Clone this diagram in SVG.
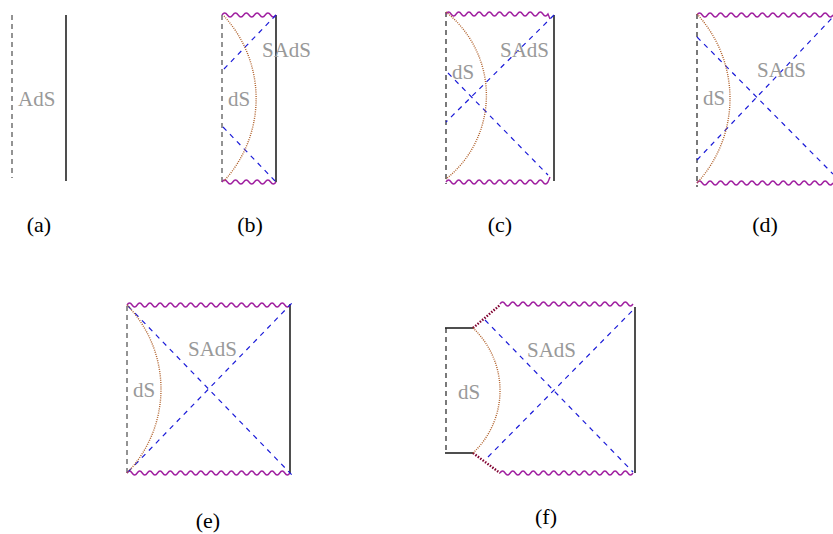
<svg xmlns="http://www.w3.org/2000/svg" width="833" height="534" viewBox="0 0 833 534">
<style>
.bd{stroke:#666;stroke-width:1.4;stroke-dasharray:5 4;fill:none}
.kd{stroke:#222;stroke-width:1.2;stroke-dasharray:5 4;fill:none}
.sl{stroke:#222;stroke-width:1.6;fill:none}
.wv{stroke:#a020a0;stroke-width:1.4;fill:none}
.bl{stroke:#1a1ad8;stroke-width:1.2;stroke-dasharray:5 5;fill:none}
.br{stroke:#b0602a;stroke-width:1.4;stroke-dasharray:1 1.2;fill:none}
.mr{stroke:#800030;stroke-width:2.4;stroke-dasharray:1.5 1.5;fill:none}
.lb{font-size:21px;fill:#999}
.cp{font-size:22px;fill:#000;text-anchor:middle}
</style>
<g font-family="'Liberation Serif','Times New Roman','DejaVu Serif',serif">
<g id="panel-a">
<line class="bd" x1="12" y1="15" x2="12" y2="178"/>
<line class="sl" x1="66" y1="15" x2="66" y2="181"/>
<text class="lb" x="18" y="106">AdS</text>
<text class="cp" x="39" y="232">(a)</text>
</g>
<g id="panel-b">
<line class="bd" x1="222" y1="15" x2="222" y2="182"/>
<line class="sl" x1="276" y1="15" x2="276" y2="182"/>
<path class="wv" d="M222 15 q2.7 -4 5.4 0 t5.4 0 t5.4 0 t5.4 0 t5.4 0 t5.4 0 t5.4 0 t5.4 0 t5.4 0 t5.4 0"/>
<path class="wv" d="M222 182 q2.7 -4 5.4 0 t5.4 0 t5.4 0 t5.4 0 t5.4 0 t5.4 0 t5.4 0 t5.4 0 t5.4 0 t5.4 0"/>
<line class="bl" x1="276" y1="15" x2="223" y2="70"/>
<line class="bl" x1="223" y1="127" x2="276" y2="182"/>
<path class="br" d="M224 16 A122 122 0 0 1 224 181"/>
<text class="lb" x="262" y="57">SAdS</text>
<text class="lb" x="228" y="106">dS</text>
<text class="cp" x="250" y="232">(b)</text>
</g>
<g id="panel-c">
<line class="kd" x1="446" y1="12" x2="446" y2="184"/>
<line class="sl" x1="554" y1="15" x2="554" y2="181"/>
<path class="wv" d="M446 14 q2.55 -4 5.1 0 t5.1 0 t5.1 0 t5.1 0 t5.1 0 t5.1 0 t5.1 0 t5.1 0 t5.1 0 t5.1 0 t5.1 0 t5.1 0 t5.1 0 t5.1 0 t5.1 0 t5.1 0 t5.1 0 t5.1 0 t5.1 0 t5.1 0 l2 5"/>
<path class="wv" d="M446 182 q2.55 -4 5.1 0 t5.1 0 t5.1 0 t5.1 0 t5.1 0 t5.1 0 t5.1 0 t5.1 0 t5.1 0 t5.1 0 t5.1 0 t5.1 0 t5.1 0 t5.1 0 t5.1 0 t5.1 0 t5.1 0 t5.1 0 t5.1 0 t5.1 0 l2 -5"/>
<line class="bl" x1="554" y1="15" x2="446" y2="122"/>
<line class="bl" x1="448" y1="73" x2="548" y2="175"/>
<path class="br" d="M446 12 A106.5 106.5 0 0 1 446 179"/>
<text class="lb" x="500" y="57">SAdS</text>
<text class="lb" x="452" y="79">dS</text>
<text class="cp" x="500" y="232">(c)</text>
</g>
<g id="panel-d">
<line class="kd" x1="697" y1="14" x2="697" y2="187"/>
<path class="wv" d="M697 15 q2.6 -4 5.23 0 t5.23 0 t5.23 0 t5.23 0 t5.23 0 t5.23 0 t5.23 0 t5.23 0 t5.23 0 t5.23 0 t5.23 0 t5.23 0 t5.23 0 t5.23 0 t5.23 0 t5.23 0 t5.23 0 t5.23 0 t5.23 0 t5.23 0 t5.23 0 t5.23 0 t5.23 0 t5.23 0 t5.23 0 t5.23 0"/>
<path class="wv" d="M697 183 q2.6 -4 5.23 0 t5.23 0 t5.23 0 t5.23 0 t5.23 0 t5.23 0 t5.23 0 t5.23 0 t5.23 0 t5.23 0 t5.23 0 t5.23 0 t5.23 0 t5.23 0 t5.23 0 t5.23 0 t5.23 0 t5.23 0 t5.23 0 t5.23 0 t5.23 0 t5.23 0 t5.23 0 t5.23 0 t5.23 0 t5.23 0"/>
<line class="bl" x1="697" y1="37" x2="833" y2="174"/>
<line class="bl" x1="697" y1="160" x2="833" y2="17"/>
<path class="br" d="M697 14 A124.7 124.7 0 0 1 697 183"/>
<text class="lb" x="757" y="77">SAdS</text>
<text class="lb" x="703" y="105">dS</text>
<text class="cp" x="765" y="232">(d)</text>
</g>
<g id="panel-e">
<line class="bd" x1="127" y1="306" x2="127" y2="473"/>
<line class="sl" x1="290" y1="304" x2="290" y2="473"/>
<path class="wv" d="M127 305 q2.55 -4 5.09 0 t5.09 0 t5.09 0 t5.09 0 t5.09 0 t5.09 0 t5.09 0 t5.09 0 t5.09 0 t5.09 0 t5.09 0 t5.09 0 t5.09 0 t5.09 0 t5.09 0 t5.09 0 t5.09 0 t5.09 0 t5.09 0 t5.09 0 t5.09 0 t5.09 0 t5.09 0 t5.09 0 t5.09 0 t5.09 0 t5.09 0 t5.09 0 t5.09 0 t5.09 0 t5.09 0 t5.09 0"/>
<path class="wv" d="M127 473 q2.55 -4 5.09 0 t5.09 0 t5.09 0 t5.09 0 t5.09 0 t5.09 0 t5.09 0 t5.09 0 t5.09 0 t5.09 0 t5.09 0 t5.09 0 t5.09 0 t5.09 0 t5.09 0 t5.09 0 t5.09 0 t5.09 0 t5.09 0 t5.09 0 t5.09 0 t5.09 0 t5.09 0 t5.09 0 t5.09 0 t5.09 0 t5.09 0 t5.09 0 t5.09 0 t5.09 0 t5.09 0 t5.09 0"/>
<line class="bl" x1="128" y1="306" x2="292" y2="475"/>
<line class="bl" x1="128" y1="472" x2="292" y2="303"/>
<path class="br" d="M127 305 A120.8 120.8 0 0 1 127 473"/>
<text class="lb" x="188" y="356">SAdS</text>
<text class="lb" x="133" y="397">dS</text>
<text class="cp" x="208" y="528">(e)</text>
</g>
<g id="panel-f">
<line class="kd" x1="446" y1="328" x2="446" y2="453"/>
<line class="sl" x1="445" y1="328" x2="473" y2="328"/>
<line class="sl" x1="445" y1="453" x2="473" y2="453"/>
<line class="mr" x1="473" y1="328" x2="500" y2="305"/>
<line class="mr" x1="473" y1="453" x2="500" y2="473"/>
<line class="sl" x1="635" y1="307" x2="635" y2="473"/>
<path class="wv" d="M500 304 q2.56 -4 5.115 0 t5.115 0 t5.115 0 t5.115 0 t5.115 0 t5.115 0 t5.115 0 t5.115 0 t5.115 0 t5.115 0 t5.115 0 t5.115 0 t5.115 0 t5.115 0 t5.115 0 t5.115 0 t5.115 0 t5.115 0 t5.115 0 t5.115 0 t5.115 0 t5.115 0 t5.115 0 t5.115 0 t5.115 0 t5.115 0"/>
<path class="wv" d="M500 473 q2.56 -4 5.115 0 t5.115 0 t5.115 0 t5.115 0 t5.115 0 t5.115 0 t5.115 0 t5.115 0 t5.115 0 t5.115 0 t5.115 0 t5.115 0 t5.115 0 t5.115 0 t5.115 0 t5.115 0 t5.115 0 t5.115 0 t5.115 0 t5.115 0 t5.115 0 t5.115 0 t5.115 0 t5.115 0 t5.115 0 t5.115 0"/>
<line class="bl" x1="485" y1="320" x2="633" y2="472"/>
<line class="bl" x1="488" y1="457" x2="635" y2="308"/>
<path class="br" d="M473 328 A85.8 85.8 0 0 1 473 453"/>
<text class="lb" x="527" y="357">SAdS</text>
<text class="lb" x="458" y="399">dS</text>
<text class="cp" x="546" y="524">(f)</text>
</g>
</g>
</svg>
